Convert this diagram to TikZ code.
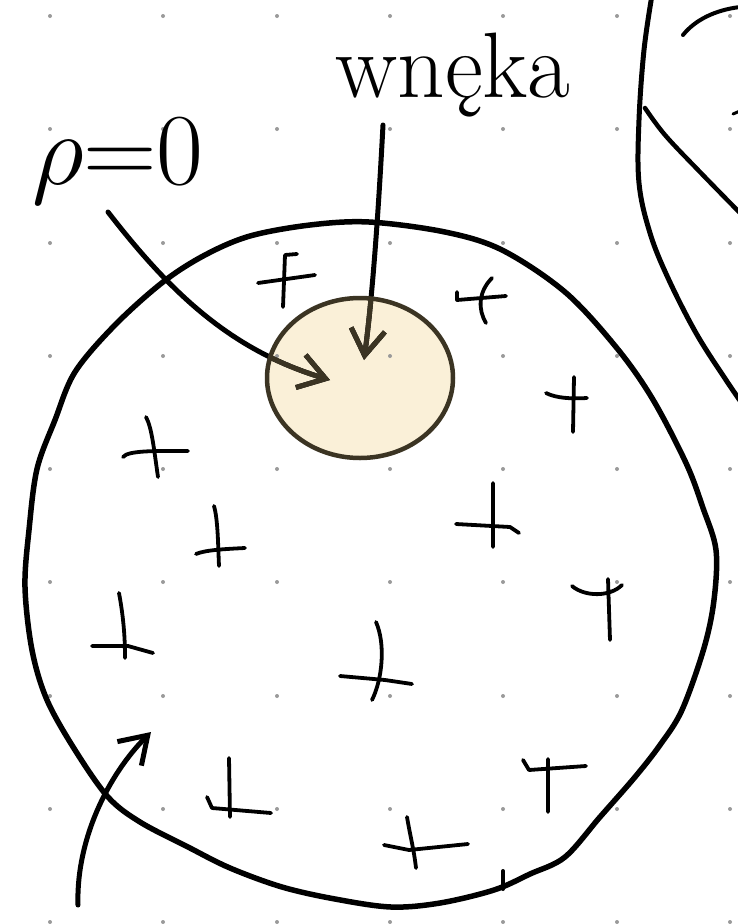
\RequirePackage{fix-cm}
\documentclass[tikz,border=0pt]{standalone}
\usepackage{fontspec}
\usetikzlibrary{arrows.meta}
\definecolor{cavfill}{HTML}{FAF0D8}
\definecolor{cavink}{HTML}{3B3423}
\definecolor{dotc}{HTML}{9A9A9A}
\tikzset{
  pen/.style={line width=5pt, line cap=round, line join=round},
  plusmark/.style={line width=3.8pt, line cap=round, line join=round},
  lab/.style={font=\fontsize{93}{100}\selectfont, inner sep=0pt, anchor=base},
  biglab/.style={font=\fontsize{102}{110}\selectfont, inner sep=0pt, anchor=base},
  barb/.style={-{Straight Barb[length=26pt,width=34pt]}}
}
\begin{document}
\begin{tikzpicture}[x=1pt,y=-1pt]
\useasboundingbox (0,0) rectangle (738,924);
\clip (0,0) rectangle (738,924);
\fill[white] (0,0) rectangle (738,924);
% cavity fill
\coordinate (cav) at (360,378);
\fill[cavfill] (cav) ellipse [x radius=93pt, y radius=80pt];
% grid dots
\foreach \gx in {50,163,277,390,503,617,730}
  \foreach \gy in {16,129,243,356,469,582,696,809,922}
    \fill[dotc] (\gx,\gy) circle (2pt);
% big circle
\draw[pen, line width=5.5pt] plot[smooth cycle, tension=0.55] coordinates {
 (369,222) (445,232) (502,250) (565,292) (616,347) (652,398) (686,463) (703,508)
 (716,550) (714,600) (704,648) (682,710) (660,745) (635,777) (600,817) (565,857)
 (530,874) (494,890) (440,903) (391,907) (335,899) (282,887) (230,868) (188,847)
 (140,822) (108,797) (75,750) (47,700) (32,650) (25,587) (29,530) (37,469)
 (55,420) (75,372) (115,325) (163,282) (205,255) (250,236) (310,225)};
\draw[pen, line width=4pt] (503,871) -- (503,889);
% neighbouring shape at the right edge
\draw[pen] plot[smooth, tension=0.6] coordinates {
 (652,-5) (644,50) (639,120) (639,183) (650,233) (668,278) (696,333) (726,380) (748,412)};
\draw[pen, line width=4pt] (683,35) .. controls (695,20) and (715,10) .. (740,7);
\draw[pen, line width=4.5pt] plot[smooth, tension=0.6] coordinates {
 (645,108) (665,135) (700,172) (742,215)};
\draw[pen, line width=3pt] (733,114) -- (740,111);
% plus signs
\draw[plusmark] (285,255) -- (297,254) (285,255) -- (283,307) (258,283) -- (315,275);
\draw[plusmark] (457,292) -- (457,300) -- (506,296) (492,278) .. controls (478,292) and (478,310) .. (486,323);
\draw[plusmark] (574,377) -- (573,432) (546,393) .. controls (556,398) and (570,399) .. (587,398);
\draw[plusmark] (146,417) .. controls (152,428) and (154,450) .. (158,477) (123,457) .. controls (128,450) and (160,451) .. (188,451);
\draw[plusmark] (214,506) .. controls (218,520) and (218,545) .. (219,566) (196,554) .. controls (205,550) and (225,549) .. (245,548);
\draw[plusmark] (493,483) -- (493,547) (456,524) -- (510,527) -- (519,533);
\draw[plusmark] (608,579) -- (610,640) (572,586) .. controls (585,597) and (610,597) .. (622,585);
\draw[plusmark] (119,593) .. controls (124,620) and (125,640) .. (125,658) (92,646) -- (128,646) -- (153,653);
\draw[plusmark] (376,622) .. controls (386,645) and (382,680) .. (372,700) (340,676) -- (385,680) -- (412,684);
\draw[plusmark] (229,758) -- (230,817) (207,797) -- (212,808) -- (271,813);
\draw[plusmark] (523,760) -- (529,770) -- (586,766) (548,759) -- (548,812);
\draw[plusmark] (407,817) .. controls (410,835) and (414,850) .. (416,868) (384,845) -- (409,850) -- (468,844);
% labels
\node[biglab] (rholab) at (118,184) {$\rho{=}0$};
\node[lab] (wneka) at (453,97) {wnęka};
\coordinate (rhoS) at (108,212);
\coordinate (rhoT) at (330,380);
\coordinate (wnS) at (383,125);
\coordinate (wnT) at (364,360);
\coordinate (blS) at (78,905);
\coordinate (blT) at (151,732);
% arrows
\draw[pen, barb] (rhoS) .. controls (170,292) and (230,350) .. (rhoT);
\draw[pen, barb] (wnS) .. controls (378,220) and (372,300) .. (wnT);
\draw[pen, barb] (blS) .. controls (76,840) and (108,775) .. (blT);
% highlighted parts inside the cavity
\begin{scope}
  \clip (cav) ellipse [x radius=93pt, y radius=80pt];
  \draw[pen, barb, cavink] (rhoS) .. controls (170,292) and (230,350) .. (rhoT);
  \draw[pen, barb, cavink] (wnS) .. controls (378,220) and (372,300) .. (wnT);
\end{scope}
\draw[cavink, line width=4.5pt] (cav) ellipse [x radius=93pt, y radius=80pt];
\end{tikzpicture}
\end{document}
